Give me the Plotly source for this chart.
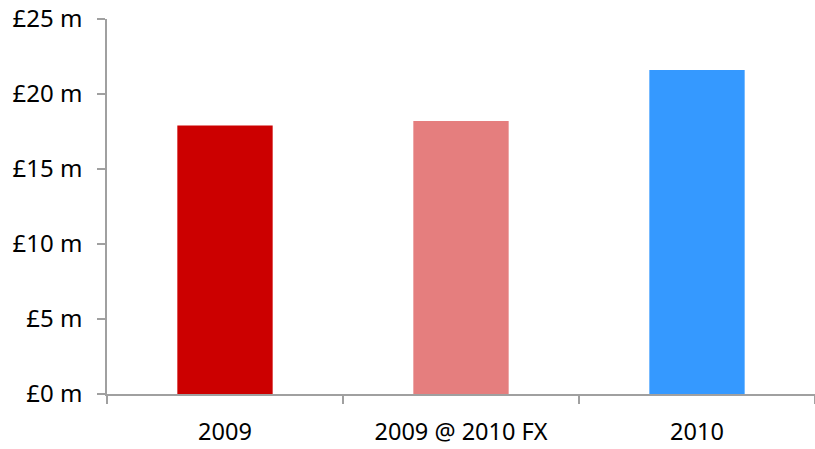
import plotly.graph_objects as go

categories = ["2009", "2009 @ 2010 FX", "2010"]
values = [17.9, 18.2, 21.6]
bar_colors = ["#CC0000", "#E57E7E", "#3599FF"]
y_ticks = [0, 5, 10, 15, 20, 25]
y_tick_labels = ["£0 m", "£5 m", "£10 m", "£15 m", "£20 m", "£25 m"]

axis_grey = "#A0A0A0"
font_family = "Noto Sans"

fig = go.Figure(
    go.Bar(
        x=categories,
        y=values,
        marker=dict(color=bar_colors, line=dict(width=0)),
        hoverinfo="x+y",
    )
)

fig.update_layout(
    width=815,
    height=449,
    margin=dict(l=107, r=0, t=19, b=55),
    paper_bgcolor="white",
    plot_bgcolor="white",
    bargap=0.596,
    showlegend=False,
    font=dict(family=font_family, size=23, color="#000000"),
)

fig.update_xaxes(
    showline=True,
    linecolor=axis_grey,
    linewidth=1.5,
    ticks="outside",
    tickson="boundaries",
    ticklen=8,
    tickcolor=axis_grey,
    tickwidth=1.5,
    showgrid=False,
    ticklabelstandoff=16,
    tickfont=dict(size=23.5),
)

fig.update_yaxes(
    range=[0, 25],
    tickvals=y_ticks,
    ticktext=y_tick_labels,
    showline=True,
    linecolor=axis_grey,
    linewidth=1.5,
    ticks="outside",
    ticklen=8,
    tickcolor=axis_grey,
    tickwidth=1.5,
    showgrid=False,
    zeroline=False,
    ticklabelstandoff=10,
    tickfont=dict(size=24),
)

fig.write_html("out.html")
